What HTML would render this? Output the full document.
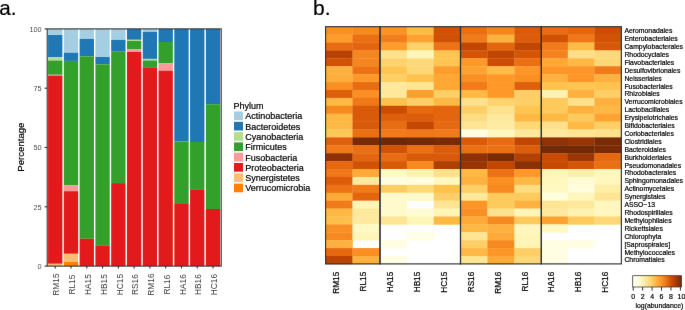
<!DOCTYPE html>
<html><head><meta charset="utf-8"><style>
html,body{margin:0;padding:0;background:#fff;}
svg{display:block;font-family:"Liberation Sans", sans-serif;will-change:transform;}
</style></head><body>
<svg width="685" height="310" viewBox="0 0 685 310">
<defs><filter id="bl" x="0" y="0" width="685" height="310" filterUnits="userSpaceOnUse" color-interpolation-filters="sRGB"><feConvolveMatrix order="3" kernelMatrix="0.00163 0.03713 0.00163 0.03713 0.84497 0.03713 0.00163 0.03713 0.00163" edgeMode="duplicate"/></filter></defs>
<g filter="url(#bl)"><rect width="685" height="310" fill="#fff"/>
<rect x="48.06" y="28.90" width="14.33" height="6.10" fill="#a6cee3"/>
<rect x="48.06" y="35.00" width="14.33" height="22.00" fill="#1f78b4"/>
<rect x="48.06" y="57.00" width="14.33" height="3.50" fill="#b2df8a"/>
<rect x="48.06" y="60.50" width="14.33" height="14.30" fill="#33a02c"/>
<rect x="48.06" y="74.80" width="14.33" height="0.80" fill="#fb9a99"/>
<rect x="48.06" y="75.60" width="14.33" height="188.20" fill="#e31a1c"/>
<rect x="48.06" y="263.80" width="14.33" height="2.30" fill="#fdbf6f"/>
<rect x="63.84" y="28.90" width="14.33" height="23.80" fill="#a6cee3"/>
<rect x="63.84" y="52.70" width="14.33" height="8.20" fill="#1f78b4"/>
<rect x="63.84" y="60.90" width="14.33" height="124.20" fill="#33a02c"/>
<rect x="63.84" y="185.10" width="14.33" height="6.10" fill="#fb9a99"/>
<rect x="63.84" y="191.20" width="14.33" height="62.60" fill="#e31a1c"/>
<rect x="63.84" y="253.80" width="14.33" height="8.20" fill="#fdbf6f"/>
<rect x="63.84" y="262.00" width="14.33" height="4.10" fill="#ff7f00"/>
<rect x="79.62" y="28.90" width="14.33" height="10.00" fill="#a6cee3"/>
<rect x="79.62" y="38.90" width="14.33" height="17.40" fill="#1f78b4"/>
<rect x="79.62" y="56.30" width="14.33" height="182.50" fill="#33a02c"/>
<rect x="79.62" y="238.80" width="14.33" height="27.30" fill="#e31a1c"/>
<rect x="95.40" y="28.90" width="14.33" height="28.10" fill="#a6cee3"/>
<rect x="95.40" y="57.00" width="14.33" height="7.30" fill="#1f78b4"/>
<rect x="95.40" y="64.30" width="14.33" height="181.00" fill="#33a02c"/>
<rect x="95.40" y="245.30" width="14.33" height="20.80" fill="#e31a1c"/>
<rect x="111.18" y="28.90" width="14.33" height="11.00" fill="#a6cee3"/>
<rect x="111.18" y="39.90" width="14.33" height="11.30" fill="#1f78b4"/>
<rect x="111.18" y="51.20" width="14.33" height="131.90" fill="#33a02c"/>
<rect x="111.18" y="183.10" width="14.33" height="83.00" fill="#e31a1c"/>
<rect x="126.96" y="28.90" width="14.33" height="10.90" fill="#1f78b4"/>
<rect x="126.96" y="39.80" width="14.33" height="1.20" fill="#b2df8a"/>
<rect x="126.96" y="41.00" width="14.33" height="8.40" fill="#33a02c"/>
<rect x="126.96" y="49.40" width="14.33" height="2.60" fill="#fb9a99"/>
<rect x="126.96" y="52.00" width="14.33" height="214.10" fill="#e31a1c"/>
<rect x="142.74" y="28.90" width="14.33" height="2.90" fill="#a6cee3"/>
<rect x="142.74" y="31.80" width="14.33" height="27.10" fill="#1f78b4"/>
<rect x="142.74" y="58.90" width="14.33" height="1.60" fill="#b2df8a"/>
<rect x="142.74" y="60.50" width="14.33" height="6.80" fill="#33a02c"/>
<rect x="142.74" y="67.30" width="14.33" height="198.80" fill="#e31a1c"/>
<rect x="158.52" y="28.90" width="14.33" height="13.10" fill="#1f78b4"/>
<rect x="158.52" y="42.00" width="14.33" height="21.30" fill="#33a02c"/>
<rect x="158.52" y="63.30" width="14.33" height="7.40" fill="#fb9a99"/>
<rect x="158.52" y="70.70" width="14.33" height="195.40" fill="#e31a1c"/>
<rect x="174.30" y="28.90" width="14.33" height="112.50" fill="#1f78b4"/>
<rect x="174.30" y="141.40" width="14.33" height="61.80" fill="#33a02c"/>
<rect x="174.30" y="203.20" width="14.33" height="62.90" fill="#e31a1c"/>
<rect x="190.08" y="28.90" width="14.33" height="113.10" fill="#1f78b4"/>
<rect x="190.08" y="142.00" width="14.33" height="47.90" fill="#33a02c"/>
<rect x="190.08" y="189.90" width="14.33" height="76.20" fill="#e31a1c"/>
<rect x="205.86" y="28.90" width="14.33" height="75.30" fill="#1f78b4"/>
<rect x="205.86" y="104.20" width="14.33" height="104.80" fill="#33a02c"/>
<rect x="205.86" y="209.00" width="14.33" height="57.10" fill="#e31a1c"/>
<rect x="47.2" y="28.9" width="174.00" height="237.20" fill="none" stroke="#333" stroke-width="1.1"/>
<line x1="44.60" x2="47.20" y1="266.10" y2="266.10" stroke="#333" stroke-width="1.1"/>
<text x="41.6" y="269.05" font-size="7.3" text-anchor="end" fill="#4d4d4d">0</text>
<line x1="44.60" x2="47.20" y1="206.80" y2="206.80" stroke="#333" stroke-width="1.1"/>
<text x="41.6" y="209.75" font-size="7.3" text-anchor="end" fill="#4d4d4d">25</text>
<line x1="44.60" x2="47.20" y1="147.50" y2="147.50" stroke="#333" stroke-width="1.1"/>
<text x="41.6" y="150.45" font-size="7.3" text-anchor="end" fill="#4d4d4d">50</text>
<line x1="44.60" x2="47.20" y1="88.20" y2="88.20" stroke="#333" stroke-width="1.1"/>
<text x="41.6" y="91.15" font-size="7.3" text-anchor="end" fill="#4d4d4d">75</text>
<line x1="44.60" x2="47.20" y1="28.90" y2="28.90" stroke="#333" stroke-width="1.1"/>
<text x="41.6" y="31.85" font-size="7.3" text-anchor="end" fill="#4d4d4d">100</text>
<line x1="55.23" x2="55.23" y1="266.10" y2="268.40" stroke="#333" stroke-width="1.1"/>
<text transform="translate(59.43,284.6) rotate(-90)" font-size="8.4" text-anchor="middle" fill="#3a3a3a">RM15</text>
<line x1="71.01" x2="71.01" y1="266.10" y2="268.40" stroke="#333" stroke-width="1.1"/>
<text transform="translate(75.21,284.6) rotate(-90)" font-size="8.4" text-anchor="middle" fill="#3a3a3a">RL15</text>
<line x1="86.79" x2="86.79" y1="266.10" y2="268.40" stroke="#333" stroke-width="1.1"/>
<text transform="translate(90.99,284.6) rotate(-90)" font-size="8.4" text-anchor="middle" fill="#3a3a3a">HA15</text>
<line x1="102.57" x2="102.57" y1="266.10" y2="268.40" stroke="#333" stroke-width="1.1"/>
<text transform="translate(106.77,284.6) rotate(-90)" font-size="8.4" text-anchor="middle" fill="#3a3a3a">HB15</text>
<line x1="118.35" x2="118.35" y1="266.10" y2="268.40" stroke="#333" stroke-width="1.1"/>
<text transform="translate(122.55,284.6) rotate(-90)" font-size="8.4" text-anchor="middle" fill="#3a3a3a">HC15</text>
<line x1="134.12" x2="134.12" y1="266.10" y2="268.40" stroke="#333" stroke-width="1.1"/>
<text transform="translate(138.32,284.6) rotate(-90)" font-size="8.4" text-anchor="middle" fill="#3a3a3a">RS16</text>
<line x1="149.91" x2="149.91" y1="266.10" y2="268.40" stroke="#333" stroke-width="1.1"/>
<text transform="translate(154.10,284.6) rotate(-90)" font-size="8.4" text-anchor="middle" fill="#3a3a3a">RM16</text>
<line x1="165.68" x2="165.68" y1="266.10" y2="268.40" stroke="#333" stroke-width="1.1"/>
<text transform="translate(169.88,284.6) rotate(-90)" font-size="8.4" text-anchor="middle" fill="#3a3a3a">RL16</text>
<line x1="181.47" x2="181.47" y1="266.10" y2="268.40" stroke="#333" stroke-width="1.1"/>
<text transform="translate(185.66,284.6) rotate(-90)" font-size="8.4" text-anchor="middle" fill="#3a3a3a">HA16</text>
<line x1="197.24" x2="197.24" y1="266.10" y2="268.40" stroke="#333" stroke-width="1.1"/>
<text transform="translate(201.44,284.6) rotate(-90)" font-size="8.4" text-anchor="middle" fill="#3a3a3a">HB16</text>
<line x1="213.02" x2="213.02" y1="266.10" y2="268.40" stroke="#333" stroke-width="1.1"/>
<text transform="translate(217.22,284.6) rotate(-90)" font-size="8.4" text-anchor="middle" fill="#3a3a3a">HC16</text>
<text transform="translate(24.3,147.1) rotate(-90)" font-size="9.6" text-anchor="middle" fill="#000" stroke="#000" stroke-width="0.2">Percentage</text>
<text x="233.6" y="108.7" font-size="9.0" fill="#000" stroke="#000" stroke-width="0.2">Phylum</text>
<rect x="234" y="111.50" width="9" height="8.7" fill="#a6cee3"/>
<text x="245.2" y="119.30" font-size="9.0" fill="#000" stroke="#000" stroke-width="0.2">Actinobacteria</text>
<rect x="234" y="121.80" width="9" height="8.7" fill="#1f78b4"/>
<text x="245.2" y="129.60" font-size="9.0" fill="#000" stroke="#000" stroke-width="0.2">Bacteroidetes</text>
<rect x="234" y="132.10" width="9" height="8.7" fill="#b2df8a"/>
<text x="245.2" y="139.90" font-size="9.0" fill="#000" stroke="#000" stroke-width="0.2">Cyanobacteria</text>
<rect x="234" y="142.40" width="9" height="8.7" fill="#33a02c"/>
<text x="245.2" y="150.20" font-size="9.0" fill="#000" stroke="#000" stroke-width="0.2">Firmicutes</text>
<rect x="234" y="152.70" width="9" height="8.7" fill="#fb9a99"/>
<text x="245.2" y="160.50" font-size="9.0" fill="#000" stroke="#000" stroke-width="0.2">Fusobacteria</text>
<rect x="234" y="163.00" width="9" height="8.7" fill="#e31a1c"/>
<text x="245.2" y="170.80" font-size="9.0" fill="#000" stroke="#000" stroke-width="0.2">Proteobacteria</text>
<rect x="234" y="173.30" width="9" height="8.7" fill="#fdbf6f"/>
<text x="245.2" y="181.10" font-size="9.0" fill="#000" stroke="#000" stroke-width="0.2">Synergistetes</text>
<rect x="234" y="183.60" width="9" height="8.7" fill="#ff7f00"/>
<text x="245.2" y="191.40" font-size="9.0" fill="#000" stroke="#000" stroke-width="0.2">Verrucomicrobia</text>
<rect x="325.60" y="26.70" width="27.20" height="8.21" fill="#fa8f24"/>
<rect x="352.50" y="26.70" width="27.80" height="8.21" fill="#f78921"/>
<rect x="380.00" y="26.70" width="27.10" height="8.21" fill="#fb9226"/>
<rect x="406.80" y="26.70" width="27.20" height="8.21" fill="#febb47"/>
<rect x="433.70" y="26.70" width="27.10" height="8.21" fill="#d15205"/>
<rect x="460.50" y="26.70" width="27.20" height="8.21" fill="#eb6f13"/>
<rect x="487.40" y="26.70" width="27.30" height="8.21" fill="#f5851f"/>
<rect x="514.40" y="26.70" width="27.20" height="8.21" fill="#d95a09"/>
<rect x="541.30" y="26.70" width="26.80" height="8.21" fill="#e86c12"/>
<rect x="567.80" y="26.70" width="26.90" height="8.21" fill="#e3660f"/>
<rect x="594.40" y="26.70" width="27.25" height="8.21" fill="#cc4c02"/>
<rect x="325.60" y="34.61" width="27.20" height="8.21" fill="#fe9c2c"/>
<rect x="352.50" y="34.61" width="27.80" height="8.21" fill="#eb6f13"/>
<rect x="380.00" y="34.61" width="27.10" height="8.21" fill="#f27f1c"/>
<rect x="406.80" y="34.61" width="27.20" height="8.21" fill="#fea332"/>
<rect x="433.70" y="34.61" width="27.10" height="8.21" fill="#d05004"/>
<rect x="460.50" y="34.61" width="27.20" height="8.21" fill="#f17b1a"/>
<rect x="487.40" y="34.61" width="27.30" height="8.21" fill="#feb13e"/>
<rect x="514.40" y="34.61" width="27.20" height="8.21" fill="#db5d0b"/>
<rect x="541.30" y="34.61" width="26.80" height="8.21" fill="#d15205"/>
<rect x="567.80" y="34.61" width="26.90" height="8.21" fill="#f07818"/>
<rect x="594.40" y="34.61" width="27.25" height="8.21" fill="#d15205"/>
<rect x="325.60" y="42.51" width="27.20" height="8.21" fill="#e86c12"/>
<rect x="352.50" y="42.51" width="27.80" height="8.21" fill="#e3660f"/>
<rect x="380.00" y="42.51" width="27.10" height="8.21" fill="#fe9c2c"/>
<rect x="406.80" y="42.51" width="27.20" height="8.21" fill="#fed26c"/>
<rect x="433.70" y="42.51" width="27.10" height="8.21" fill="#ed7215"/>
<rect x="460.50" y="42.51" width="27.20" height="8.21" fill="#c04602"/>
<rect x="487.40" y="42.51" width="27.30" height="8.21" fill="#e3660f"/>
<rect x="514.40" y="42.51" width="27.20" height="8.21" fill="#c04602"/>
<rect x="541.30" y="42.51" width="26.80" height="8.21" fill="#f17b1a"/>
<rect x="567.80" y="42.51" width="26.90" height="8.21" fill="#febb47"/>
<rect x="594.40" y="42.51" width="27.25" height="8.21" fill="#d65808"/>
<rect x="325.60" y="50.42" width="27.20" height="8.21" fill="#b84203"/>
<rect x="352.50" y="50.42" width="27.80" height="8.21" fill="#f5851f"/>
<rect x="380.00" y="50.42" width="27.10" height="8.21" fill="#fee18c"/>
<rect x="406.80" y="50.42" width="27.20" height="8.21" fill="#fff6ba"/>
<rect x="433.70" y="50.42" width="27.10" height="8.21" fill="#fec552"/>
<rect x="460.50" y="50.42" width="27.20" height="8.21" fill="#d45506"/>
<rect x="487.40" y="50.42" width="27.30" height="8.21" fill="#c04602"/>
<rect x="514.40" y="50.42" width="27.20" height="8.21" fill="#d45506"/>
<rect x="541.30" y="50.42" width="26.80" height="8.21" fill="#f4821d"/>
<rect x="567.80" y="50.42" width="26.90" height="8.21" fill="#fede86"/>
<rect x="594.40" y="50.42" width="27.25" height="8.21" fill="#fed97c"/>
<rect x="325.60" y="58.33" width="27.20" height="8.21" fill="#d15205"/>
<rect x="352.50" y="58.33" width="27.80" height="8.21" fill="#f5851f"/>
<rect x="380.00" y="58.33" width="27.10" height="8.21" fill="#fed26c"/>
<rect x="406.80" y="58.33" width="27.20" height="8.21" fill="#fed97c"/>
<rect x="433.70" y="58.33" width="27.10" height="8.21" fill="#fec552"/>
<rect x="460.50" y="58.33" width="27.20" height="8.21" fill="#fe9929"/>
<rect x="487.40" y="58.33" width="27.30" height="8.21" fill="#cc4c02"/>
<rect x="514.40" y="58.33" width="27.20" height="8.21" fill="#eb6f13"/>
<rect x="541.30" y="58.33" width="26.80" height="8.21" fill="#fea735"/>
<rect x="567.80" y="58.33" width="26.90" height="8.21" fill="#feb844"/>
<rect x="594.40" y="58.33" width="27.25" height="8.21" fill="#fed777"/>
<rect x="325.60" y="66.23" width="27.20" height="8.21" fill="#feb13e"/>
<rect x="352.50" y="66.23" width="27.80" height="8.21" fill="#ed7215"/>
<rect x="380.00" y="66.23" width="27.10" height="8.21" fill="#fec552"/>
<rect x="406.80" y="66.23" width="27.20" height="8.21" fill="#fed777"/>
<rect x="433.70" y="66.23" width="27.10" height="8.21" fill="#fe9c2c"/>
<rect x="460.50" y="66.23" width="27.20" height="8.21" fill="#fea332"/>
<rect x="487.40" y="66.23" width="27.30" height="8.21" fill="#febb47"/>
<rect x="514.40" y="66.23" width="27.20" height="8.21" fill="#fd9627"/>
<rect x="541.30" y="66.23" width="26.80" height="8.21" fill="#fd9627"/>
<rect x="567.80" y="66.23" width="26.90" height="8.21" fill="#fd9627"/>
<rect x="594.40" y="66.23" width="27.25" height="8.21" fill="#f17b1a"/>
<rect x="325.60" y="74.14" width="27.20" height="8.21" fill="#feae3b"/>
<rect x="352.50" y="74.14" width="27.80" height="8.21" fill="#fe9929"/>
<rect x="380.00" y="74.14" width="27.10" height="8.21" fill="#fecf67"/>
<rect x="406.80" y="74.14" width="27.20" height="8.21" fill="#fec24d"/>
<rect x="433.70" y="74.14" width="27.10" height="8.21" fill="#fea735"/>
<rect x="460.50" y="74.14" width="27.20" height="8.21" fill="#fa8f24"/>
<rect x="487.40" y="74.14" width="27.30" height="8.21" fill="#fe9929"/>
<rect x="514.40" y="74.14" width="27.20" height="8.21" fill="#fa8f24"/>
<rect x="541.30" y="74.14" width="26.80" height="8.21" fill="#feb13e"/>
<rect x="567.80" y="74.14" width="26.90" height="8.21" fill="#fd9627"/>
<rect x="594.40" y="74.14" width="27.25" height="8.21" fill="#feb13e"/>
<rect x="325.60" y="82.05" width="27.20" height="8.21" fill="#fa8f24"/>
<rect x="352.50" y="82.05" width="27.80" height="8.21" fill="#e86c12"/>
<rect x="380.00" y="82.05" width="27.10" height="8.21" fill="#fee89b"/>
<rect x="406.80" y="82.05" width="27.20" height="8.21" fill="#fee594"/>
<rect x="433.70" y="82.05" width="27.10" height="8.21" fill="#fea735"/>
<rect x="460.50" y="82.05" width="27.20" height="8.21" fill="#f17b1a"/>
<rect x="487.40" y="82.05" width="27.30" height="8.21" fill="#fe9929"/>
<rect x="514.40" y="82.05" width="27.20" height="8.21" fill="#de600c"/>
<rect x="541.30" y="82.05" width="26.80" height="8.21" fill="#fec24d"/>
<rect x="567.80" y="82.05" width="26.90" height="8.21" fill="#fec552"/>
<rect x="594.40" y="82.05" width="27.25" height="8.21" fill="#fec24d"/>
<rect x="325.60" y="89.95" width="27.20" height="8.21" fill="#de600c"/>
<rect x="352.50" y="89.95" width="27.80" height="8.21" fill="#fa8f24"/>
<rect x="380.00" y="89.95" width="27.10" height="8.21" fill="#fee89b"/>
<rect x="406.80" y="89.95" width="27.20" height="8.21" fill="#fea02f"/>
<rect x="433.70" y="89.95" width="27.10" height="8.21" fill="#fecf67"/>
<rect x="460.50" y="89.95" width="27.20" height="8.21" fill="#feb844"/>
<rect x="487.40" y="89.95" width="27.30" height="8.21" fill="#fe9929"/>
<rect x="514.40" y="89.95" width="27.20" height="8.21" fill="#fecf67"/>
<rect x="541.30" y="89.95" width="26.80" height="8.21" fill="#fff1b0"/>
<rect x="567.80" y="89.95" width="26.90" height="8.21" fill="#feb13e"/>
<rect x="594.40" y="89.95" width="27.25" height="8.21" fill="#fecf67"/>
<rect x="325.60" y="97.86" width="27.20" height="8.21" fill="#feb844"/>
<rect x="352.50" y="97.86" width="27.80" height="8.21" fill="#f07818"/>
<rect x="380.00" y="97.86" width="27.10" height="8.21" fill="#fec24d"/>
<rect x="406.80" y="97.86" width="27.20" height="8.21" fill="#fecf67"/>
<rect x="433.70" y="97.86" width="27.10" height="8.21" fill="#feb844"/>
<rect x="460.50" y="97.86" width="27.20" height="8.21" fill="#fee18c"/>
<rect x="487.40" y="97.86" width="27.30" height="8.21" fill="#fed26c"/>
<rect x="514.40" y="97.86" width="27.20" height="8.21" fill="#fecf67"/>
<rect x="541.30" y="97.86" width="26.80" height="8.21" fill="#feca5c"/>
<rect x="567.80" y="97.86" width="26.90" height="8.21" fill="#fee18c"/>
<rect x="594.40" y="97.86" width="27.25" height="8.21" fill="#feb13e"/>
<rect x="325.60" y="105.77" width="27.20" height="8.21" fill="#f78921"/>
<rect x="352.50" y="105.77" width="27.80" height="8.21" fill="#d95a09"/>
<rect x="380.00" y="105.77" width="27.10" height="8.21" fill="#cc4c02"/>
<rect x="406.80" y="105.77" width="27.20" height="8.21" fill="#e66910"/>
<rect x="433.70" y="105.77" width="27.10" height="8.21" fill="#e3660f"/>
<rect x="460.50" y="105.77" width="27.20" height="8.21" fill="#fecf67"/>
<rect x="487.40" y="105.77" width="27.30" height="8.21" fill="#fee18c"/>
<rect x="514.40" y="105.77" width="27.20" height="8.21" fill="#fec552"/>
<rect x="541.30" y="105.77" width="26.80" height="8.21" fill="#feca5c"/>
<rect x="567.80" y="105.77" width="26.90" height="8.21" fill="#feb13e"/>
<rect x="594.40" y="105.77" width="27.25" height="8.21" fill="#feb844"/>
<rect x="325.60" y="113.67" width="27.20" height="8.21" fill="#feb844"/>
<rect x="352.50" y="113.67" width="27.80" height="8.21" fill="#d95a09"/>
<rect x="380.00" y="113.67" width="27.10" height="8.21" fill="#de600c"/>
<rect x="406.80" y="113.67" width="27.20" height="8.21" fill="#db5d0b"/>
<rect x="433.70" y="113.67" width="27.10" height="8.21" fill="#e3660f"/>
<rect x="460.50" y="113.67" width="27.20" height="8.21" fill="#fedc81"/>
<rect x="487.40" y="113.67" width="27.30" height="8.21" fill="#fee89b"/>
<rect x="514.40" y="113.67" width="27.20" height="8.21" fill="#feb844"/>
<rect x="541.30" y="113.67" width="26.80" height="8.21" fill="#feb844"/>
<rect x="567.80" y="113.67" width="26.90" height="8.21" fill="#feca5c"/>
<rect x="594.40" y="113.67" width="27.25" height="8.21" fill="#fea332"/>
<rect x="325.60" y="121.58" width="27.20" height="8.21" fill="#feb844"/>
<rect x="352.50" y="121.58" width="27.80" height="8.21" fill="#d95a09"/>
<rect x="380.00" y="121.58" width="27.10" height="8.21" fill="#e86c12"/>
<rect x="406.80" y="121.58" width="27.20" height="8.21" fill="#c44802"/>
<rect x="433.70" y="121.58" width="27.10" height="8.21" fill="#e66910"/>
<rect x="460.50" y="121.58" width="27.20" height="8.21" fill="#fee594"/>
<rect x="487.40" y="121.58" width="27.30" height="8.21" fill="#feeba2"/>
<rect x="514.40" y="121.58" width="27.20" height="8.21" fill="#fed777"/>
<rect x="541.30" y="121.58" width="26.80" height="8.21" fill="#fee18c"/>
<rect x="567.80" y="121.58" width="26.90" height="8.21" fill="#feb844"/>
<rect x="594.40" y="121.58" width="27.25" height="8.21" fill="#fecf67"/>
<rect x="325.60" y="129.49" width="27.20" height="8.21" fill="#fec857"/>
<rect x="352.50" y="129.49" width="27.80" height="8.21" fill="#eb6f13"/>
<rect x="380.00" y="129.49" width="27.10" height="8.21" fill="#f17b1a"/>
<rect x="406.80" y="129.49" width="27.20" height="8.21" fill="#f07818"/>
<rect x="433.70" y="129.49" width="27.10" height="8.21" fill="#f17b1a"/>
<rect x="460.50" y="129.49" width="27.20" height="8.21" fill="#fffee2"/>
<rect x="487.40" y="129.49" width="27.30" height="8.21" fill="#fff7be"/>
<rect x="514.40" y="129.49" width="27.20" height="8.21" fill="#fee89b"/>
<rect x="541.30" y="129.49" width="26.80" height="8.21" fill="#fee89b"/>
<rect x="567.80" y="129.49" width="26.90" height="8.21" fill="#fee594"/>
<rect x="594.40" y="129.49" width="27.25" height="8.21" fill="#fee18c"/>
<rect x="325.60" y="137.39" width="27.20" height="8.21" fill="#de600c"/>
<rect x="352.50" y="137.39" width="27.80" height="8.21" fill="#7a2b05"/>
<rect x="380.00" y="137.39" width="27.10" height="8.21" fill="#6e2706"/>
<rect x="406.80" y="137.39" width="27.20" height="8.21" fill="#722906"/>
<rect x="433.70" y="137.39" width="27.10" height="8.21" fill="#7a2b05"/>
<rect x="460.50" y="137.39" width="27.20" height="8.21" fill="#d95a09"/>
<rect x="487.40" y="137.39" width="27.30" height="8.21" fill="#e86c12"/>
<rect x="514.40" y="137.39" width="27.20" height="8.21" fill="#c04602"/>
<rect x="541.30" y="137.39" width="26.80" height="8.21" fill="#8f3104"/>
<rect x="567.80" y="137.39" width="26.90" height="8.21" fill="#993404"/>
<rect x="594.40" y="137.39" width="27.25" height="8.21" fill="#7a2b05"/>
<rect x="325.60" y="145.30" width="27.20" height="8.21" fill="#f07818"/>
<rect x="352.50" y="145.30" width="27.80" height="8.21" fill="#eb6f13"/>
<rect x="380.00" y="145.30" width="27.10" height="8.21" fill="#d15205"/>
<rect x="406.80" y="145.30" width="27.20" height="8.21" fill="#eb6f13"/>
<rect x="433.70" y="145.30" width="27.10" height="8.21" fill="#db5d0b"/>
<rect x="460.50" y="145.30" width="27.20" height="8.21" fill="#eb6f13"/>
<rect x="487.40" y="145.30" width="27.30" height="8.21" fill="#eb6f13"/>
<rect x="514.40" y="145.30" width="27.20" height="8.21" fill="#db5d0b"/>
<rect x="541.30" y="145.30" width="26.80" height="8.21" fill="#722906"/>
<rect x="567.80" y="145.30" width="26.90" height="8.21" fill="#722906"/>
<rect x="594.40" y="145.30" width="27.25" height="8.21" fill="#7a2b05"/>
<rect x="325.60" y="153.21" width="27.20" height="8.21" fill="#8f3104"/>
<rect x="352.50" y="153.21" width="27.80" height="8.21" fill="#e3660f"/>
<rect x="380.00" y="153.21" width="27.10" height="8.21" fill="#e86c12"/>
<rect x="406.80" y="153.21" width="27.20" height="8.21" fill="#d95a09"/>
<rect x="433.70" y="153.21" width="27.10" height="8.21" fill="#d95a09"/>
<rect x="460.50" y="153.21" width="27.20" height="8.21" fill="#8f3104"/>
<rect x="487.40" y="153.21" width="27.30" height="8.21" fill="#7a2b05"/>
<rect x="514.40" y="153.21" width="27.20" height="8.21" fill="#b44003"/>
<rect x="541.30" y="153.21" width="26.80" height="8.21" fill="#c84a02"/>
<rect x="567.80" y="153.21" width="26.90" height="8.21" fill="#9b3504"/>
<rect x="594.40" y="153.21" width="27.25" height="8.21" fill="#e66910"/>
<rect x="325.60" y="161.11" width="27.20" height="8.21" fill="#e66910"/>
<rect x="352.50" y="161.11" width="27.80" height="8.21" fill="#d15205"/>
<rect x="380.00" y="161.11" width="27.10" height="8.21" fill="#d95a09"/>
<rect x="406.80" y="161.11" width="27.20" height="8.21" fill="#f78921"/>
<rect x="433.70" y="161.11" width="27.10" height="8.21" fill="#af3f03"/>
<rect x="460.50" y="161.11" width="27.20" height="8.21" fill="#993404"/>
<rect x="487.40" y="161.11" width="27.30" height="8.21" fill="#c04602"/>
<rect x="514.40" y="161.11" width="27.20" height="8.21" fill="#8b3005"/>
<rect x="541.30" y="161.11" width="26.80" height="8.21" fill="#c84a02"/>
<rect x="567.80" y="161.11" width="26.90" height="8.21" fill="#d45506"/>
<rect x="594.40" y="161.11" width="27.25" height="8.21" fill="#eb6f13"/>
<rect x="325.60" y="169.02" width="27.20" height="8.21" fill="#f07818"/>
<rect x="352.50" y="169.02" width="27.80" height="8.21" fill="#feaa38"/>
<rect x="380.00" y="169.02" width="27.10" height="8.21" fill="#fff9c4"/>
<rect x="406.80" y="169.02" width="27.20" height="8.21" fill="#fff1b0"/>
<rect x="433.70" y="169.02" width="27.10" height="8.21" fill="#fee18c"/>
<rect x="460.50" y="169.02" width="27.20" height="8.21" fill="#feb844"/>
<rect x="487.40" y="169.02" width="27.30" height="8.21" fill="#ed7215"/>
<rect x="514.40" y="169.02" width="27.20" height="8.21" fill="#fe9929"/>
<rect x="541.30" y="169.02" width="26.80" height="8.21" fill="#fff5b7"/>
<rect x="567.80" y="169.02" width="26.90" height="8.21" fill="#ffeea9"/>
<rect x="594.40" y="169.02" width="27.25" height="8.21" fill="#fff7be"/>
<rect x="325.60" y="176.93" width="27.20" height="8.21" fill="#db5d0b"/>
<rect x="352.50" y="176.93" width="27.80" height="8.21" fill="#fee99f"/>
<rect x="380.00" y="176.93" width="27.10" height="8.21" fill="#fffee2"/>
<rect x="406.80" y="176.93" width="27.20" height="8.21" fill="#fffddb"/>
<rect x="433.70" y="176.93" width="27.10" height="8.21" fill="#fff7be"/>
<rect x="460.50" y="176.93" width="27.20" height="8.21" fill="#feb13e"/>
<rect x="487.40" y="176.93" width="27.30" height="8.21" fill="#fa8f24"/>
<rect x="514.40" y="176.93" width="27.20" height="8.21" fill="#feb844"/>
<rect x="541.30" y="176.93" width="26.80" height="8.21" fill="#fff7be"/>
<rect x="567.80" y="176.93" width="26.90" height="8.21" fill="#fffcd5"/>
<rect x="594.40" y="176.93" width="27.25" height="8.21" fill="#fff7be"/>
<rect x="325.60" y="184.83" width="27.20" height="8.21" fill="#ed7215"/>
<rect x="352.50" y="184.83" width="27.80" height="8.21" fill="#f17b1a"/>
<rect x="380.00" y="184.83" width="27.10" height="8.21" fill="#fecd61"/>
<rect x="406.80" y="184.83" width="27.20" height="8.21" fill="#fed777"/>
<rect x="433.70" y="184.83" width="27.10" height="8.21" fill="#fec24d"/>
<rect x="460.50" y="184.83" width="27.20" height="8.21" fill="#fecf67"/>
<rect x="487.40" y="184.83" width="27.30" height="8.21" fill="#f78921"/>
<rect x="514.40" y="184.83" width="27.20" height="8.21" fill="#fedc81"/>
<rect x="541.30" y="184.83" width="26.80" height="8.21" fill="#fff8c1"/>
<rect x="567.80" y="184.83" width="26.90" height="8.21" fill="#fffddb"/>
<rect x="594.40" y="184.83" width="27.25" height="8.21" fill="#ffeea9"/>
<rect x="325.60" y="192.74" width="27.20" height="8.21" fill="#feaa38"/>
<rect x="352.50" y="192.74" width="27.80" height="8.21" fill="#e3660f"/>
<rect x="380.00" y="192.74" width="27.10" height="8.21" fill="#fffacb"/>
<rect x="406.80" y="192.74" width="27.20" height="8.21" fill="#fffacb"/>
<rect x="433.70" y="192.74" width="27.10" height="8.21" fill="#fecf67"/>
<rect x="460.50" y="192.74" width="27.20" height="8.21" fill="#fee89b"/>
<rect x="487.40" y="192.74" width="27.30" height="8.21" fill="#feca5c"/>
<rect x="514.40" y="192.74" width="27.20" height="8.21" fill="#feca5c"/>
<rect x="541.30" y="192.74" width="26.80" height="8.21" fill="#fffede"/>
<rect x="567.80" y="192.74" width="26.90" height="8.21" fill="#fff7be"/>
<rect x="594.40" y="192.74" width="27.25" height="8.21" fill="#fee594"/>
<rect x="325.60" y="200.65" width="27.20" height="8.21" fill="#f17b1a"/>
<rect x="352.50" y="200.65" width="27.80" height="8.21" fill="#fff5b7"/>
<rect x="380.00" y="200.65" width="27.10" height="8.21" fill="#fffacb"/>
<rect x="433.70" y="200.65" width="27.10" height="8.21" fill="#fee594"/>
<rect x="460.50" y="200.65" width="27.20" height="8.21" fill="#fd9627"/>
<rect x="487.40" y="200.65" width="27.30" height="8.21" fill="#feca5c"/>
<rect x="514.40" y="200.65" width="27.20" height="8.21" fill="#feb13e"/>
<rect x="541.30" y="200.65" width="26.80" height="8.21" fill="#fee594"/>
<rect x="567.80" y="200.65" width="26.90" height="8.21" fill="#fee89b"/>
<rect x="594.40" y="200.65" width="27.25" height="8.21" fill="#fff7be"/>
<rect x="325.60" y="208.55" width="27.20" height="8.21" fill="#feb844"/>
<rect x="352.50" y="208.55" width="27.80" height="8.21" fill="#fee89b"/>
<rect x="380.00" y="208.55" width="27.10" height="8.21" fill="#fffacb"/>
<rect x="406.80" y="208.55" width="27.20" height="8.21" fill="#fffbd1"/>
<rect x="433.70" y="208.55" width="27.10" height="8.21" fill="#fff5b7"/>
<rect x="460.50" y="208.55" width="27.20" height="8.21" fill="#fa8f24"/>
<rect x="487.40" y="208.55" width="27.30" height="8.21" fill="#fee18c"/>
<rect x="514.40" y="208.55" width="27.20" height="8.21" fill="#fff5b7"/>
<rect x="541.30" y="208.55" width="26.80" height="8.21" fill="#fee99f"/>
<rect x="567.80" y="208.55" width="26.90" height="8.21" fill="#fff1b0"/>
<rect x="594.40" y="208.55" width="27.25" height="8.21" fill="#fff7be"/>
<rect x="325.60" y="216.46" width="27.20" height="8.21" fill="#febf4a"/>
<rect x="352.50" y="216.46" width="27.80" height="8.21" fill="#fee99f"/>
<rect x="380.00" y="216.46" width="27.10" height="8.21" fill="#fee594"/>
<rect x="406.80" y="216.46" width="27.20" height="8.21" fill="#fff5b7"/>
<rect x="433.70" y="216.46" width="27.10" height="8.21" fill="#feb844"/>
<rect x="460.50" y="216.46" width="27.20" height="8.21" fill="#feaa38"/>
<rect x="487.40" y="216.46" width="27.30" height="8.21" fill="#f78921"/>
<rect x="514.40" y="216.46" width="27.20" height="8.21" fill="#feca5c"/>
<rect x="541.30" y="216.46" width="26.80" height="8.21" fill="#fea332"/>
<rect x="567.80" y="216.46" width="26.90" height="8.21" fill="#feca5c"/>
<rect x="594.40" y="216.46" width="27.25" height="8.21" fill="#fed777"/>
<rect x="325.60" y="224.37" width="27.20" height="8.21" fill="#fa8f24"/>
<rect x="352.50" y="224.37" width="27.80" height="8.21" fill="#fff9c4"/>
<rect x="460.50" y="224.37" width="27.20" height="8.21" fill="#feb844"/>
<rect x="487.40" y="224.37" width="27.30" height="8.21" fill="#feb13e"/>
<rect x="514.40" y="224.37" width="27.20" height="8.21" fill="#fff7be"/>
<rect x="541.30" y="224.37" width="26.80" height="8.21" fill="#fff9c4"/>
<rect x="325.60" y="232.27" width="27.20" height="8.21" fill="#f78921"/>
<rect x="352.50" y="232.27" width="27.80" height="8.21" fill="#fff5b7"/>
<rect x="406.80" y="232.27" width="27.20" height="8.21" fill="#ffffe3"/>
<rect x="460.50" y="232.27" width="27.20" height="8.21" fill="#fee594"/>
<rect x="487.40" y="232.27" width="27.30" height="8.21" fill="#feaa38"/>
<rect x="514.40" y="232.27" width="27.20" height="8.21" fill="#fff5b7"/>
<rect x="325.60" y="240.18" width="27.20" height="8.21" fill="#feb13e"/>
<rect x="380.00" y="240.18" width="27.10" height="8.21" fill="#fffee2"/>
<rect x="460.50" y="240.18" width="27.20" height="8.21" fill="#fecf67"/>
<rect x="487.40" y="240.18" width="27.30" height="8.21" fill="#f78921"/>
<rect x="514.40" y="240.18" width="27.20" height="8.21" fill="#fff5b7"/>
<rect x="541.30" y="240.18" width="26.80" height="8.21" fill="#fffee2"/>
<rect x="567.80" y="240.18" width="26.90" height="8.21" fill="#fffee2"/>
<rect x="325.60" y="248.09" width="27.20" height="8.21" fill="#e66910"/>
<rect x="352.50" y="248.09" width="27.80" height="8.21" fill="#fa8f24"/>
<rect x="460.50" y="248.09" width="27.20" height="8.21" fill="#feb844"/>
<rect x="487.40" y="248.09" width="27.30" height="8.21" fill="#fd9627"/>
<rect x="514.40" y="248.09" width="27.20" height="8.21" fill="#fecf67"/>
<rect x="541.30" y="248.09" width="26.80" height="8.21" fill="#fffee2"/>
<rect x="325.60" y="255.99" width="27.20" height="8.21" fill="#bc4403"/>
<rect x="352.50" y="255.99" width="27.80" height="8.21" fill="#feb13e"/>
<rect x="380.00" y="255.99" width="27.10" height="8.21" fill="#fffee2"/>
<rect x="460.50" y="255.99" width="27.20" height="8.21" fill="#fee594"/>
<rect x="487.40" y="255.99" width="27.30" height="8.21" fill="#feaa38"/>
<rect x="514.40" y="255.99" width="27.20" height="8.21" fill="#fed777"/>
<rect x="541.30" y="255.99" width="26.80" height="8.21" fill="#fffee2"/>
<rect x="325.60" y="26.70" width="54.40" height="237.20" fill="none" stroke="#2f3338" stroke-width="1.15"/>
<rect x="380.00" y="26.70" width="80.50" height="237.20" fill="none" stroke="#2f3338" stroke-width="1.15"/>
<rect x="460.50" y="26.70" width="80.80" height="237.20" fill="none" stroke="#2f3338" stroke-width="1.15"/>
<rect x="541.30" y="26.70" width="80.05" height="237.20" fill="none" stroke="#2f3338" stroke-width="1.15"/>
<text x="624.4" y="33.15" font-size="6.85" fill="#000" stroke="#000" stroke-width="0.2">Aeromonadales</text>
<text x="624.4" y="41.06" font-size="6.85" fill="#000" stroke="#000" stroke-width="0.2">Enterobacteriales</text>
<text x="624.4" y="48.97" font-size="6.85" fill="#000" stroke="#000" stroke-width="0.2">Campylobacterales</text>
<text x="624.4" y="56.87" font-size="6.85" fill="#000" stroke="#000" stroke-width="0.2">Rhodocyclales</text>
<text x="624.4" y="64.78" font-size="6.85" fill="#000" stroke="#000" stroke-width="0.2">Flavobacteriales</text>
<text x="624.4" y="72.69" font-size="6.85" fill="#000" stroke="#000" stroke-width="0.2">Desulfovibrionales</text>
<text x="624.4" y="80.59" font-size="6.85" fill="#000" stroke="#000" stroke-width="0.2">Neisseriales</text>
<text x="624.4" y="88.50" font-size="6.85" fill="#000" stroke="#000" stroke-width="0.2">Fusobacteriales</text>
<text x="624.4" y="96.41" font-size="6.85" fill="#000" stroke="#000" stroke-width="0.2">Rhizobiales</text>
<text x="624.4" y="104.31" font-size="6.85" fill="#000" stroke="#000" stroke-width="0.2">Verrucomicrobiales</text>
<text x="624.4" y="112.22" font-size="6.85" fill="#000" stroke="#000" stroke-width="0.2">Lactobacillales</text>
<text x="624.4" y="120.13" font-size="6.85" fill="#000" stroke="#000" stroke-width="0.2">Erysipelotrichales</text>
<text x="624.4" y="128.03" font-size="6.85" fill="#000" stroke="#000" stroke-width="0.2">Bifidobacteriales</text>
<text x="624.4" y="135.94" font-size="6.85" fill="#000" stroke="#000" stroke-width="0.2">Coriobacteriales</text>
<text x="624.4" y="143.85" font-size="6.85" fill="#000" stroke="#000" stroke-width="0.2">Clostridiales</text>
<text x="624.4" y="151.75" font-size="6.85" fill="#000" stroke="#000" stroke-width="0.2">Bacteroidales</text>
<text x="624.4" y="159.66" font-size="6.85" fill="#000" stroke="#000" stroke-width="0.2">Burkholderiales</text>
<text x="624.4" y="167.57" font-size="6.85" fill="#000" stroke="#000" stroke-width="0.2">Pseudomonadales</text>
<text x="624.4" y="175.47" font-size="6.85" fill="#000" stroke="#000" stroke-width="0.2">Rhodobacterales</text>
<text x="624.4" y="183.38" font-size="6.85" fill="#000" stroke="#000" stroke-width="0.2">Sphingomonadales</text>
<text x="624.4" y="191.29" font-size="6.85" fill="#000" stroke="#000" stroke-width="0.2">Actinomycetales</text>
<text x="624.4" y="199.19" font-size="6.85" fill="#000" stroke="#000" stroke-width="0.2">Synergistales</text>
<text x="624.4" y="207.10" font-size="6.85" fill="#000" stroke="#000" stroke-width="0.2">ASSO−13</text>
<text x="624.4" y="215.01" font-size="6.85" fill="#000" stroke="#000" stroke-width="0.2">Rhodospirillales</text>
<text x="624.4" y="222.91" font-size="6.85" fill="#000" stroke="#000" stroke-width="0.2">Methylophilales</text>
<text x="624.4" y="230.82" font-size="6.85" fill="#000" stroke="#000" stroke-width="0.2">Rickettsiales</text>
<text x="624.4" y="238.73" font-size="6.85" fill="#000" stroke="#000" stroke-width="0.2">Chlorophyta</text>
<text x="624.4" y="246.63" font-size="6.85" fill="#000" stroke="#000" stroke-width="0.2">[Saprospirales]</text>
<text x="624.4" y="254.54" font-size="6.85" fill="#000" stroke="#000" stroke-width="0.2">Methylococcales</text>
<text x="624.4" y="262.45" font-size="6.85" fill="#000" stroke="#000" stroke-width="0.2">Chromatiales</text>
<text transform="translate(338.95,271.8) rotate(-90)" font-size="8.2" text-anchor="end" fill="#000" stroke="#000" stroke-width="0.2">RM15</text>
<text transform="translate(366.15,271.8) rotate(-90)" font-size="8.2" text-anchor="end" fill="#000" stroke="#000" stroke-width="0.2">RL15</text>
<text transform="translate(393.30,271.8) rotate(-90)" font-size="8.2" text-anchor="end" fill="#000" stroke="#000" stroke-width="0.2">HA15</text>
<text transform="translate(420.15,271.8) rotate(-90)" font-size="8.2" text-anchor="end" fill="#000" stroke="#000" stroke-width="0.2">HB15</text>
<text transform="translate(447.00,271.8) rotate(-90)" font-size="8.2" text-anchor="end" fill="#000" stroke="#000" stroke-width="0.2">HC15</text>
<text transform="translate(473.85,271.8) rotate(-90)" font-size="8.2" text-anchor="end" fill="#000" stroke="#000" stroke-width="0.2">RS16</text>
<text transform="translate(500.80,271.8) rotate(-90)" font-size="8.2" text-anchor="end" fill="#000" stroke="#000" stroke-width="0.2">RM16</text>
<text transform="translate(527.75,271.8) rotate(-90)" font-size="8.2" text-anchor="end" fill="#000" stroke="#000" stroke-width="0.2">RL16</text>
<text transform="translate(554.45,271.8) rotate(-90)" font-size="8.2" text-anchor="end" fill="#000" stroke="#000" stroke-width="0.2">HA16</text>
<text transform="translate(581.00,271.8) rotate(-90)" font-size="8.2" text-anchor="end" fill="#000" stroke="#000" stroke-width="0.2">HB16</text>
<text transform="translate(607.77,271.8) rotate(-90)" font-size="8.2" text-anchor="end" fill="#000" stroke="#000" stroke-width="0.2">HC16</text>
<defs><linearGradient id="cg" x1="0" x2="1" y1="0" y2="0"><stop offset="0.000" stop-color="#FFFFF8"/><stop offset="0.060" stop-color="#FFFFEA"/><stop offset="0.150" stop-color="#FFF8D4"/><stop offset="0.210" stop-color="#FEF0B4"/><stop offset="0.260" stop-color="#FEE8A0"/><stop offset="0.370" stop-color="#FED475"/><stop offset="0.470" stop-color="#FDB848"/><stop offset="0.530" stop-color="#FCA535"/><stop offset="0.590" stop-color="#FA9628"/><stop offset="0.650" stop-color="#F08020"/><stop offset="0.720" stop-color="#E06812"/><stop offset="0.780" stop-color="#CC5205"/><stop offset="0.820" stop-color="#C44A04"/><stop offset="0.885" stop-color="#A53C04"/><stop offset="0.950" stop-color="#8A3205"/><stop offset="1.000" stop-color="#6E2806"/></linearGradient></defs>
<rect x="632.7" y="275.7" width="48.80" height="11.30" fill="url(#cg)" stroke="#333" stroke-width="0.75"/>
<line x1="633.20" x2="633.20" y1="287.00" y2="290.60" stroke="#333" stroke-width="1"/>
<text x="633.20" y="299.0" font-size="7.0" text-anchor="middle" fill="#000" stroke="#000" stroke-width="0.2">0</text>
<line x1="642.64" x2="642.64" y1="287.00" y2="290.60" stroke="#333" stroke-width="1"/>
<text x="642.64" y="299.0" font-size="7.0" text-anchor="middle" fill="#000" stroke="#000" stroke-width="0.2">2</text>
<line x1="652.08" x2="652.08" y1="287.00" y2="290.60" stroke="#333" stroke-width="1"/>
<text x="652.08" y="299.0" font-size="7.0" text-anchor="middle" fill="#000" stroke="#000" stroke-width="0.2">4</text>
<line x1="661.52" x2="661.52" y1="287.00" y2="290.60" stroke="#333" stroke-width="1"/>
<text x="661.52" y="299.0" font-size="7.0" text-anchor="middle" fill="#000" stroke="#000" stroke-width="0.2">6</text>
<line x1="670.96" x2="670.96" y1="287.00" y2="290.60" stroke="#333" stroke-width="1"/>
<text x="670.96" y="299.0" font-size="7.0" text-anchor="middle" fill="#000" stroke="#000" stroke-width="0.2">8</text>
<line x1="680.40" x2="680.40" y1="287.00" y2="290.60" stroke="#333" stroke-width="1"/>
<text x="681.40" y="299.0" font-size="7.0" text-anchor="middle" fill="#000" stroke="#000" stroke-width="0.2">10</text>
<text x="659.4" y="308.2" font-size="6.9" text-anchor="middle" fill="#000" stroke="#000" stroke-width="0.2">log(abundance)</text>
<text x="-0.8" y="14.8" font-size="20.6" fill="#000" stroke="#000" stroke-width="0.2">a.</text>
<text x="313.1" y="14.9" font-size="21" fill="#000" stroke="#000" stroke-width="0.2">b.</text>
</g>
</svg>
</body></html>
